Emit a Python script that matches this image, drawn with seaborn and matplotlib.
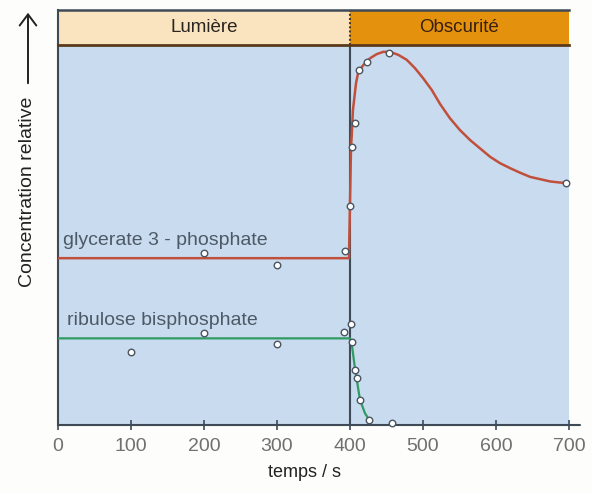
import matplotlib
matplotlib.use("Agg")
import matplotlib.pyplot as plt
import seaborn as sns
import pandas as pd

# ---------------- data ----------------
# glycerate 3-phosphate : measured points
g3p_x = [200, 300, 392.7, 400, 402.3, 406.8, 412.3, 423.7, 453.8, 695.9]
g3p_y = [45.3, 42.1, 45.8, 57.7, 73.2, 79.6, 93.4, 95.4, 98.0, 63.8]
# glycerate 3-phosphate : drawn curve
g3p_curve_x = [0, 398.6, 399.0, 400.0, 401.4, 402.3, 404.0, 408.2, 411.4, 418.2,
               427.4, 436.6, 445.6, 454.8, 466.2, 477.7, 489.0, 500.4, 511.9,
               523.3, 537.0, 550.7, 564.4, 578.1, 591.8, 605.5, 619.2, 632.9,
               646.6, 660.3, 674.0, 687.7, 695.9]
g3p_curve_y = [43.9, 43.9, 48.7, 58.4, 73.2, 75.9, 82.8, 89.9, 93.0, 94.7,
               96.5, 97.6, 98.2, 98.2, 97.4, 96.1, 93.9, 91.2, 88.2,
               84.5, 80.7, 77.6, 75.0, 72.8, 70.6, 68.9, 67.6, 66.4,
               65.3, 64.7, 64.1, 63.8, 63.7]
# ribulose bisphosphate : measured points
rubp_x = [100, 200, 300, 391.8, 401, 402.3, 406.8, 410, 413.7, 426.4, 457]
rubp_y = [19.1, 24.1, 21.3, 24.4, 26.5, 21.8, 14.5, 12.3, 6.6, 1.3, 0.4]
# ribulose bisphosphate : drawn curve
rubp_curve_x = [0, 400, 402.3, 406.8, 413.7, 420.5, 426.4]
rubp_curve_y = [22.8, 22.8, 21.5, 14.9, 6.6, 3.1, 1.3]

x_ticks = [0, 100, 200, 300, 400, 500, 600, 700]
phases = ["Lumière", "Obscurité"]
phase_bounds = [0, 400, 700]

# ---------------- style ----------------
sns.set_theme(style="white")
plt.rcParams["font.family"] = ["Liberation Sans", "DejaVu Sans"]

W, H = 592, 493
fig = plt.figure(figsize=(W / 100, H / 100), dpi=100)
fig.patch.set_facecolor("#fdfdfb")

def px_box(l, t, r, b):
    return [l / W, 1 - b / H, (r - l) / W, (b - t) / H]

ax = fig.add_axes(px_box(58, 45, 569, 425))
hdr = fig.add_axes(px_box(58, 10, 569, 45))

bg = "#c9dbee"
ax.set_facecolor(bg)
dark = "#3e4a56"

red = "#c0503c"
green = "#2f9a62"

df_rc = pd.DataFrame({"t": g3p_curve_x, "c": g3p_curve_y})
df_gc = pd.DataFrame({"t": rubp_curve_x, "c": rubp_curve_y})
df_rp = pd.DataFrame({"t": g3p_x, "c": g3p_y})
df_gp = pd.DataFrame({"t": rubp_x, "c": rubp_y})

sns.lineplot(data=df_rc, x="t", y="c", ax=ax, color=red, lw=1.8, sort=False,
             estimator=None, zorder=3)
sns.lineplot(data=df_gc, x="t", y="c", ax=ax, color=green, lw=1.6, sort=False,
             estimator=None, zorder=3)
for line in ax.get_lines():
    line.set_solid_joinstyle("round")

ax.axvline(phase_bounds[1], color=dark, lw=1.5, zorder=2)

for df in (df_rp, df_gp):
    sns.scatterplot(data=df, x="t", y="c", ax=ax, s=22, facecolor="white",
                    edgecolor="#4a5560", linewidth=1.0, zorder=5, clip_on=False)

ax.set_xlim(0, 700)
ax.set_ylim(0, 100)
ax.set_xticks(x_ticks)
ax.set_xticklabels([str(v) for v in x_ticks])
ax.set_yticks([])
ax.set_xlabel("")
ax.set_ylabel("")
ax.tick_params(axis="x", direction="inout", length=7, width=1.2, color=dark,
               labelsize=14, labelcolor="#707070", pad=6, bottom=True)
for s in ("top", "right"):
    ax.spines[s].set_visible(False)
ax.spines["left"].set_color(dark)
ax.spines["left"].set_linewidth(1.5)
ax.spines["bottom"].set_visible(False)
ax.plot([0, 715], [0, 0], color=dark, lw=1.5, clip_on=False, zorder=4)

ax.text(7, 47.4, "glycerate 3 - phosphate", fontsize=14, color="#4d5966",
        va="baseline", ha="left")
ax.text(12, 26.3, "ribulose bisphosphate", fontsize=14, color="#4d5966",
        va="baseline", ha="left")

# header band
hdr.set_xlim(0, 700)
hdr.set_ylim(0, 1)
hdr.axvspan(phase_bounds[0], phase_bounds[1], color="#fae3bf", lw=0)
hdr.axvspan(phase_bounds[1], phase_bounds[2], color="#e4920e", lw=0)
hdr.axvline(phase_bounds[1], color="#4a3a2a", lw=1.5, ls=(0, (1, 1)))
hdr.text(200, 0.5, phases[0], ha="center", va="center", fontsize=13.5,
         color="#2a2520")
hdr.text(550, 0.5, phases[1], ha="center", va="center", fontsize=13.5,
         color="#3a2010")
hdr.set_xticks([])
hdr.set_yticks([])
hdr.spines["right"].set_visible(False)
hdr.spines["top"].set_color(dark)
hdr.spines["top"].set_linewidth(1.8)
hdr.spines["bottom"].set_color("#5a3a1a")
hdr.spines["bottom"].set_linewidth(2.0)
hdr.spines["left"].set_color(dark)
hdr.spines["left"].set_linewidth(1.5)

# axis titles
fig.text(305 / W, 1 - 477 / H, "temps / s", ha="center", va="baseline",
         fontsize=13, color="#222222")
fig.text(28 / W, 1 - 192 / H, "Concentration relative", rotation=90,
         ha="center", va="center", fontsize=14, color="#222222")
fig.add_artist(matplotlib.patches.FancyArrowPatch(
    (28 / W, 1 - 86 / H), (28 / W, 1 - 10 / H), transform=fig.transFigure,
    arrowstyle="->,head_length=8,head_width=6", color="#222222", lw=1.4,
    mutation_scale=1))

fig.savefig("out.png", dpi=100, facecolor=fig.get_facecolor())
